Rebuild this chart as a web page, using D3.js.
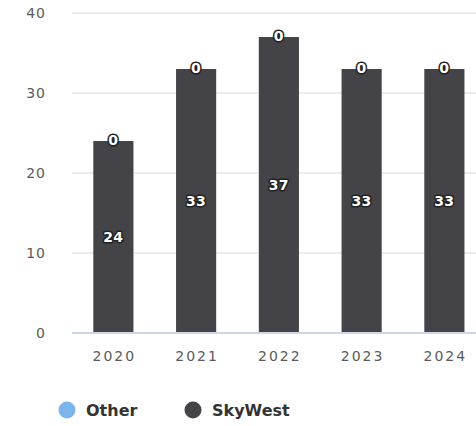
<!DOCTYPE html>
<html><head><meta charset="utf-8">
<script src="https://cdn.jsdelivr.net/npm/d3@7/dist/d3.min.js"></script>
<style>body{margin:0;background:#fff;overflow:hidden}svg{display:block}</style>
</head><body>
<script>
const categories = ["2020","2021","2022","2023","2024"];
const skywest = [24,33,37,33,33];
const other = [0,0,0,0,0];
const yTicks = [0,10,20,30,40];
const seriesNames = ["Other","SkyWest"];
const seriesColors = ["#7cb5ec","#434348"];

const W=476,H=426;
const svg=d3.select("body").append("svg").attr("width",W).attr("height",H);
const left=72, bandW=82.75, right=left+bandW*categories.length;
const x=d3.scaleBand().domain(categories).range([left,right]).paddingInner(0.515).paddingOuter(0.2575);
const y=d3.scaleLinear().domain([0,40]).range([333,13]);

// gridlines
svg.append("g").selectAll("line").data(yTicks.filter(d=>d>0)).join("line")
 .attr("x1",left).attr("x2",W).attr("y1",d=>y(d)).attr("y2",d=>y(d))
 .attr("stroke","#e6e6e6").attr("stroke-width",1.5);
// y labels
svg.append("g").selectAll("text").data(yTicks).join("text")
 .attr("x",46).attr("y",d=>y(d)+5).attr("text-anchor","end")
 .attr("font-family","DejaVu Sans").attr("font-size",14).attr("letter-spacing",1)
 .attr("fill","#5a5a5a").text(d=>d);

const data=categories.map((c,i)=>({c,sky:skywest[i],oth:other[i]}));
// bars
svg.append("g").selectAll("rect").data(data).join("rect")
 .attr("x",d=>x(d.c)).attr("width",x.bandwidth())
 .attr("y",d=>y(d.sky)).attr("height",d=>y(0)-y(d.sky))
 .attr("fill",seriesColors[1]);
svg.append("g").selectAll("rect").data(data).join("rect")
 .attr("x",d=>x(d.c)).attr("width",x.bandwidth())
 .attr("y",d=>y(d.sky+d.oth)).attr("height",d=>y(d.sky)-y(d.sky+d.oth))
 .attr("fill",seriesColors[0]);

// axis line
svg.append("line").attr("x1",left).attr("x2",W).attr("y1",y(0)).attr("y2",y(0))
 .attr("stroke","#ccd6eb").attr("stroke-width",2);

// x labels
svg.append("g").selectAll("text").data(categories).join("text")
 .attr("x",d=>x(d)+x.bandwidth()/2+1).attr("y",361).attr("text-anchor","middle")
 .attr("font-family","DejaVu Sans").attr("font-size",14).attr("letter-spacing",2)
 .attr("fill","#5a5a5a").text(d=>d);

function label(g,xv,yv,t){
  g.append("text").attr("x",xv).attr("y",yv).attr("text-anchor","middle")
   .attr("font-family","DejaVu Sans").attr("font-weight","bold").attr("font-size",14)
   .attr("letter-spacing",0.5)
   .attr("fill","#fff").attr("stroke","#222").attr("stroke-width",3).attr("stroke-linejoin","round")
   .attr("paint-order","stroke").text(t);
}
const lg=svg.append("g");
data.forEach(d=>{
  const cx=x(d.c)+x.bandwidth()/2;
  label(lg,cx,(y(0)+y(d.sky))/2+5,d.sky);
  label(lg,cx,y(d.sky+d.oth)+4,d.oth);
});

// legend
const legX=[67,193];
seriesNames.forEach((n,i)=>{
  svg.append("circle").attr("cx",legX[i]).attr("cy",410).attr("r",8.5).attr("fill",seriesColors[i]);
  svg.append("text").attr("x",legX[i]+19).attr("y",416).attr("font-family","DejaVu Sans")
   .attr("font-weight","bold").attr("font-size",16).attr("fill","#333").text(n);
});
</script>
</body></html>
